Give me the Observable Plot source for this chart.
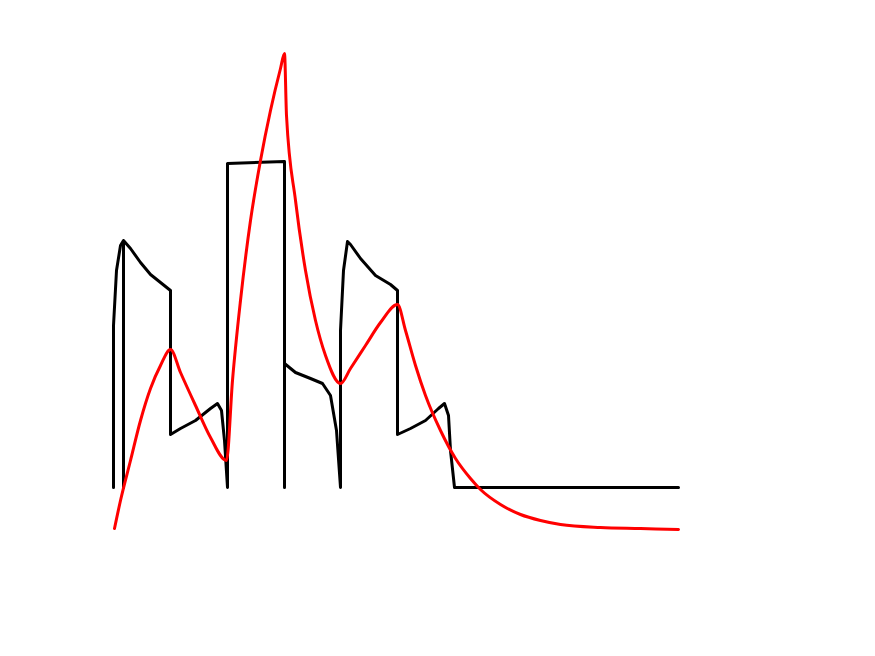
<!DOCTYPE html>
<html><head><meta charset="utf-8">
<script src="https://cdn.jsdelivr.net/npm/d3@7"></script>
<script src="https://cdn.jsdelivr.net/npm/@observablehq/plot@0.6"></script>
<style>body{margin:0;background:#fff}</style>
</head><body><div id="chart"></div>
<script>
// values (x, y in picture units, y grows upward)
const blackX = [113,113,116,120,123,123,123,130,140,150,160,170,170,180,195,210,217,221,224,227,227,284,284,284,295,310,322,330,336,340,340,343,347,350,360,375,390,397,397,410,425,438,444,448,450,454,678]
const blackY = [487,325,270,245,240,487,240,248,262,274,282,290,434,428,420,408,403,410,440,487,163,161,487,363,372,378,383,395,430,487,330,270,241,244,258,275,284,290,434,428,420,408,403,415,450,487,487]
const redX = [114,120,130,140,150,160,170,180,195,210,226,232,240,250,260,270,280,284,286,295,305,315,325,340,350,365,380,397,405,415,425,440,455,470,480,500,520,540,560,600,640,678]
const redY = [528,500,460,420,388,365,349,372,405,437,460,380,300,220,160,110,68,53,115,200,270,320,355,383,368,345,322,304,330,365,395,430,458,478,489,504,514,520,524,527,528,529]

const black = blackX.map((x, i) => ({x, y: 656 - blackY[i]}))
const red = redX.map((x, i) => ({x, y: 656 - redY[i]}))

const chart = Plot.plot({
  width: 875,
  height: 656,
  margin: 0,
  x: {domain: [0, 875], axis: null},
  y: {domain: [0, 656], axis: null},
  marks: [
    Plot.line(black, {x: "x", y: "y", stroke: "black", strokeWidth: 3}),
    Plot.line(red, {x: "x", y: "y", stroke: "red", strokeWidth: 3, curve: "monotone-x"})
  ]
})
d3.select("#chart").append(() => chart)
</script></body></html>
